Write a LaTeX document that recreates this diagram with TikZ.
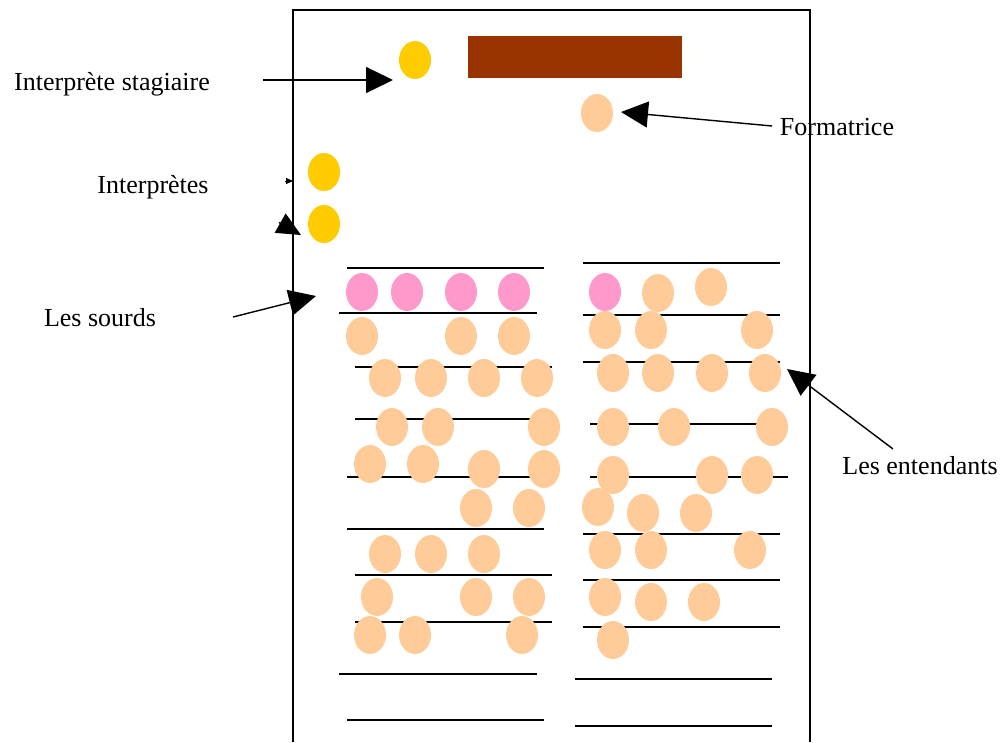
\documentclass[tikz,border=0pt]{standalone}
\usepackage{fontspec}
\setmainfont{Liberation Serif}
\usetikzlibrary{shapes.geometric,arrows.meta}
\definecolor{jaune}{HTML}{FFCC00}
\definecolor{peche}{HTML}{FFCC99}
\definecolor{rose}{HTML}{FF99CC}
\definecolor{brun}{HTML}{993300}

\begin{document}
\begin{tikzpicture}
  [x=1pt,y=-1pt]
      \tikzstyle{person_style} = [ellipse, draw=none, inner sep=0, minimum width=32, minimum height=38]
      \tikzstyle{bench_style} = [draw=black, line width=1.3]
      \tikzstyle{arrow_style} = [draw=black, line width=1.4, -{Triangle[length=27pt,width=26pt]}]
      \tikzstyle{label_style} = [anchor=base, inner sep=0, font=\fontsize{26}{30}\selectfont]
  \useasboundingbox (0,0) rectangle (1003,742);
  % salle
  \draw[line width=1.5] (293,742) -- (293,10) -- (810,10) -- (810,742);
  \fill[brun] (468,36) rectangle (682,78);
  % rangees de gauche
  \draw[bench_style] (347,268) -- (544,268);
  \draw[bench_style] (339,313) -- (537,313);
  \draw[bench_style] (355,367) -- (552,367);
  \draw[bench_style] (355,419) -- (552,419);
  \draw[bench_style] (347,477) -- (558,477);
  \draw[bench_style] (347,529) -- (544,529);
  \draw[bench_style] (355,575) -- (552,575);
  \draw[bench_style] (355,622) -- (552,622);
  \draw[bench_style] (339,674) -- (537,674);
  \draw[bench_style] (347,720) -- (544,720);
  % rangees de droite
  \draw[bench_style] (583,263) -- (780,263);
  \draw[bench_style] (583,315) -- (780,315);
  \draw[bench_style] (583,362) -- (780,362);
  \draw[bench_style] (590,424) -- (785,424);
  \draw[bench_style] (590,477) -- (788,477);
  \draw[bench_style] (583,534) -- (780,534);
  \draw[bench_style] (583,580) -- (780,580);
  \draw[bench_style] (583,627) -- (780,627);
  \draw[bench_style] (575,679) -- (772,679);
  \draw[bench_style] (575,726) -- (772,726);
  % interpretes et formatrice
  \node[person_style, fill=jaune] (stag) at (415,60) {};
  \node[person_style, fill=peche] (form) at (597,113) {};
  \node[person_style, fill=jaune] (int1) at (324,172) {};
  \node[person_style, fill=jaune] (int2) at (324,224) {};
  % les sourds
  \node[person_style, fill=rose] (s1) at (362,292) {};
  \node[person_style, fill=rose] (s2) at (407,292) {};
  \node[person_style, fill=rose] (s3) at (461,292) {};
  \node[person_style, fill=rose] (s4) at (514,292) {};
  \node[person_style, fill=rose] (s5) at (605,292) {};
  % les entendants, gauche
  \node[person_style, fill=peche] (l1) at (362,336) {};
  \node[person_style, fill=peche] (l2) at (461,336) {};
  \node[person_style, fill=peche] (l3) at (514,336) {};
  \node[person_style, fill=peche] (l4) at (385,378) {};
  \node[person_style, fill=peche] (l5) at (431,378) {};
  \node[person_style, fill=peche] (l6) at (484,378) {};
  \node[person_style, fill=peche] (l7) at (537,378) {};
  \node[person_style, fill=peche] (l8) at (392,427) {};
  \node[person_style, fill=peche] (l9) at (438,427) {};
  \node[person_style, fill=peche] (l10) at (544,427) {};
  \node[person_style, fill=peche] (l11) at (370,464) {};
  \node[person_style, fill=peche] (l12) at (423,464) {};
  \node[person_style, fill=peche] (l13) at (484,469) {};
  \node[person_style, fill=peche] (l14) at (544,469) {};
  \node[person_style, fill=peche] (l15) at (476,508) {};
  \node[person_style, fill=peche] (l16) at (529,508) {};
  \node[person_style, fill=peche] (l17) at (385,554) {};
  \node[person_style, fill=peche] (l18) at (431,554) {};
  \node[person_style, fill=peche] (l19) at (484,554) {};
  \node[person_style, fill=peche] (l20) at (377,597) {};
  \node[person_style, fill=peche] (l21) at (476,597) {};
  \node[person_style, fill=peche] (l22) at (529,597) {};
  \node[person_style, fill=peche] (l23) at (370,635) {};
  \node[person_style, fill=peche] (l24) at (415,635) {};
  \node[person_style, fill=peche] (l25) at (522,635) {};
  % les entendants, droite
  \node[person_style, fill=peche] (r1) at (658,293) {};
  \node[person_style, fill=peche] (r2) at (711,287) {};
  \node[person_style, fill=peche] (r3) at (605,330) {};
  \node[person_style, fill=peche] (r4) at (651,330) {};
  \node[person_style, fill=peche] (r5) at (757,330) {};
  \node[person_style, fill=peche] (r6) at (613,373) {};
  \node[person_style, fill=peche] (r7) at (658,373) {};
  \node[person_style, fill=peche] (r8) at (712,373) {};
  \node[person_style, fill=peche] (r9) at (765,373) {};
  \node[person_style, fill=peche] (r10) at (613,427) {};
  \node[person_style, fill=peche] (r11) at (674,427) {};
  \node[person_style, fill=peche] (r12) at (772,427) {};
  \node[person_style, fill=peche] (r13) at (613,475) {};
  \node[person_style, fill=peche] (r14) at (712,475) {};
  \node[person_style, fill=peche] (r15) at (757,475) {};
  \node[person_style, fill=peche] (r16) at (598,507) {};
  \node[person_style, fill=peche] (r17) at (643,513) {};
  \node[person_style, fill=peche] (r18) at (696,513) {};
  \node[person_style, fill=peche] (r19) at (605,550) {};
  \node[person_style, fill=peche] (r20) at (651,550) {};
  \node[person_style, fill=peche] (r21) at (750,550) {};
  \node[person_style, fill=peche] (r22) at (605,597) {};
  \node[person_style, fill=peche] (r23) at (651,602) {};
  \node[person_style, fill=peche] (r24) at (704,602) {};
  \node[person_style, fill=peche] (r25) at (613,640) {};
  % legendes
  \node[label_style] (t_stag) at (112,90) {Interprète stagiaire};
  \node[label_style] (t_form) at (837,135) {Formatrice};
  \node[label_style] (t_int) at (153,193) {Interprètes};
  \node[label_style] (t_sourds) at (100,326) {Les sourds};
  \node[label_style] (t_ent) at (920,474) {Les entendants};
  \coordinate (a_stag) at (263,80);
  \coordinate (b_stag) at (393,80);
  \coordinate (a_form) at (772,126);
  \coordinate (b_form) at (621,112);
  \coordinate (a_int1) at (285,181);
  \coordinate (b_int1) at (293,181);
  \coordinate (a_int2) at (279,222.5);
  \coordinate (b_int2) at (301,235);
  \coordinate (a_sourds) at (233,317);
  \coordinate (b_sourds) at (316,296);
  \coordinate (a_ent) at (893,449);
  \coordinate (b_ent) at (787,369);
  \draw[arrow_style] (a_stag) -- (b_stag);
  \draw[arrow_style] (a_form) -- (b_form);
  \draw[draw=black, line width=0.8, -{Triangle[length=7pt,width=6pt]}] (a_int1) -- (b_int1);
  \draw[draw=black, line width=1.4, -{Triangle[length=24pt,width=22pt]}] (a_int2) -- (b_int2);
  \draw[arrow_style] (a_sourds) -- (b_sourds);
  \draw[arrow_style] (a_ent) -- (b_ent);
\end{tikzpicture}
\end{document}
